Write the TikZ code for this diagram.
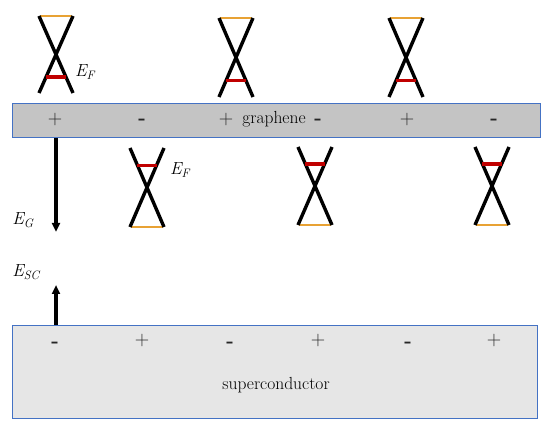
\documentclass[tikz,border=0pt]{standalone}
\usepackage{fontspec}
\usetikzlibrary{positioning, arrows.meta}

\definecolor{edgeblue}{RGB}{68,114,196}
\definecolor{grfill}{RGB}{196,196,196}
\definecolor{scfill}{RGB}{230,230,230}
\definecolor{fermired}{RGB}{192,0,0}
\definecolor{rimorange}{RGB}{232,162,52}

\newcommand{\poschg}{+}
\newcommand{\negchg}{\textbf{-}}

\begin{document}
\begin{tikzpicture}[x=1pt, y=-1pt, font=\fontsize{17.5}{20}\selectfont,
    layer/.style={draw=edgeblue, line width=1.2pt, anchor=north west, inner sep=0pt},
    cone/.style={line width=3.4pt},
    fermi/.style={draw=fermired, line width=3.4pt},
    rim/.style={draw=rimorange, line width=1.5pt},
    chg/.style={text=black!85, inner sep=0pt, font=\fontsize{20}{23}\selectfont},
    gap/.style={line width=3.2pt, -{Triangle[length=9pt, width=8pt]}}]
  \useasboundingbox (0,0) rectangle (549,435);
  % layers
  \node[layer, fill=grfill, minimum width=528pt, minimum height=34pt] (gr) at (12,103) {};
  \node[layer, fill=scfill, minimum width=525pt, minimum height=93pt] (sc) at (12,325) {};
  \node (grname) at (274,119) {graphene};
  \node (scname) at (276,385) {superconductor};
  % charges
  \foreach \x/\s/\y [count=\i] in {55/\poschg/120, 142/\negchg/122, 226/\poschg/120, 318/\negchg/122, 407/\poschg/120, 494/\negchg/122}{
    \node[chg] (g\i) at (\x,\y) {\s};
  }
  \foreach \x/\s/\y [count=\i] in {55/\negchg/345, 142/\poschg/341, 230/\negchg/345, 318/\poschg/341, 408/\negchg/345, 494/\poschg/341}{
    \node[chg] (s\i) at (\x,\y) {\s};
  }
  % cones above graphene
  \foreach \cx/\t/\b in {56/16/93, 236/18/97, 406/18/97}{
    \pgfmathsetmacro{\ef}{\t+0.79*(\b-\t)}
    \draw[rim] (\cx-16,\t) -- (\cx+16,\t);
    \draw[cone] (\cx-17,\t) -- (\cx+17,\b);
    \draw[cone] (\cx+17,\t) -- (\cx-17,\b);
    \draw[fermi] (\cx-10,\ef) -- (\cx+10,\ef);
  }
  % cones below graphene
  \foreach \cx/\t/\b in {147/148/227, 315/147/225, 492/147/225}{
    \pgfmathsetmacro{\ef}{\t+0.22*(\b-\t)}
    \draw[rim] (\cx-16,\b) -- (\cx+16,\b);
    \draw[cone] (\cx-17,\t) -- (\cx+17,\b);
    \draw[cone] (\cx+17,\t) -- (\cx-17,\b);
    \draw[fermi] (\cx-10,\ef) -- (\cx+10,\ef);
  }
  \node (ef1) at (85,72) {\textit{E\textsubscript{F}}};
  \node (ef2) at (180,170) {\textit{E\textsubscript{F}}};
  % gaps
  \coordinate (gtip) at (56,232);
  \coordinate (stip) at (56,285);
  \draw[gap] (gr.south -| gtip) -- (gtip);
  \draw[gap] (sc.north -| stip) -- (stip);
  \node (eg) at (23,220) {\textit{E\textsubscript{G}}};
  \node (esc) at (26,272) {\textit{E\textsubscript{SC}}};
\end{tikzpicture}
\end{document}
